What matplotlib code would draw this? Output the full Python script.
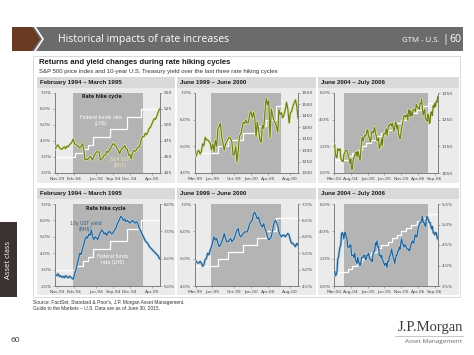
import matplotlib
matplotlib.use('Agg')
import matplotlib.pyplot as plt
import matplotlib.patheffects as pe
from matplotlib.patches import Rectangle, Polygon
from matplotlib.lines import Line2D
import pandas as pd

# ---------------- data ----------------
# cycle 1: Feb 1994 - Mar 1995, weekly from 1993-10-22
sp500_94 = [463, 467, 469, 465, 463, 462, 464, 466, 463, 467,
            466, 469, 471, 474, 478, 470, 470, 467, 467, 464,
            466, 471, 464, 445, 447, 446, 448, 451, 449, 445,
            452, 455, 458, 458, 458, 445, 447, 449, 453, 453,
            459, 457, 461, 463, 468, 471, 469, 468, 463, 461,
            455, 461, 464, 465, 468, 463, 462, 453, 454, 447,
            457, 460, 459, 461, 465, 465, 470, 479, 482, 482,
            487, 485, 489, 495, 496, 501, 506, 510, 509, 514,
            520, 525]
ust10_94 = [5.40, 5.38, 5.45, 5.35, 5.38, 5.32, 5.35, 5.30, 5.38, 5.33,
            5.30, 5.36, 5.32, 5.28, 5.25, 5.45, 5.60, 5.80, 6.00, 6.20,
            6.15, 6.35, 6.50, 6.70, 6.80, 6.75, 6.90, 6.85, 7.05, 6.80,
            6.70, 6.80, 6.75, 6.70, 6.85, 6.95, 7.05, 7.00, 6.90, 6.95,
            6.85, 6.95, 7.00, 6.95, 6.90, 6.95, 7.05, 7.10, 7.25, 7.35,
            7.45, 7.55, 7.50, 7.40, 7.45, 7.35, 7.40, 7.35, 7.30, 7.35,
            7.40, 7.35, 7.30, 7.35, 7.30, 7.15, 7.05, 6.95, 6.85, 6.75,
            6.65, 6.60, 6.55, 6.45, 6.40, 6.35, 6.30, 6.25, 6.20, 6.15,
            6.10, 6.00]
ff_dates_94 = ['1993-10-22', '1994-02-04', '1994-03-22', '1994-04-18', '1994-05-17',
               '1994-08-16', '1994-11-15', '1995-02-01', '1995-05-15']
ff_rate_94 = [3.0, 3.25, 3.5, 3.75, 4.25, 4.75, 5.5, 6.0, 6.0]
xticks_94 = ['1993-11-01', '1994-02-01', '1994-06-01', '1994-09-01', '1994-12-01', '1995-04-01']
xlabels_94 = ['Nov-93', 'Feb-94', 'Jun-94', 'Sep-94', 'Dec-94', 'Apr-95']

# cycle 2: Jun 1999 - Jun 2000, weekly from 1999-03-05
sp500_99 = [1275, 1294, 1299, 1283,
            1293, 1328, 1319, 1356, 1345,
            1345, 1338, 1330, 1302,
            1327, 1294, 1343, 1316,
            1391, 1404, 1418, 1357, 1329,
            1300, 1327, 1336, 1348,
            1357, 1351, 1336, 1277,
            1282, 1317, 1247, 1301, 1362,
            1370, 1396, 1422, 1416,
            1433, 1418, 1422, 1458, 1469,
            1441, 1465, 1441, 1360,
            1424, 1387, 1346, 1333,
            1409, 1395, 1464, 1527, 1499,
            1516, 1356, 1481, 1452,
            1432, 1420, 1406, 1378,
            1477, 1456, 1464, 1441, 1455,
            1478, 1509, 1480, 1419,
            1462, 1471, 1492, 1506,
            1520, 1495, 1440]
ust10_99 = [5.25, 5.20, 5.20, 5.25,
            5.20, 5.10, 5.15, 5.30, 5.35,
            5.50, 5.45, 5.60, 5.70,
            5.85, 6.00, 5.90, 5.95,
            5.80, 5.70, 5.75, 5.85, 5.95,
            6.10, 5.95, 5.85, 5.85,
            5.90, 5.95, 5.85, 5.90,
            5.95, 6.10, 6.20, 6.25, 6.05,
            6.00, 6.05, 6.10, 6.15,
            6.15, 6.15, 6.25, 6.40, 6.45,
            6.50, 6.70, 6.75, 6.65,
            6.55, 6.60, 6.45, 6.35,
            6.30, 6.40, 6.25, 6.15, 6.00,
            5.90, 5.95, 6.00, 6.20,
            6.40, 6.50, 6.45, 6.35,
            6.15, 6.05, 6.00, 6.05, 6.05,
            6.00, 6.05, 6.10, 6.05,
            5.90, 5.80, 5.80, 5.75,
            5.70, 5.80, 5.75]
ff_dates_99 = ['1999-03-05', '1999-06-30', '1999-08-24', '1999-11-16', '2000-02-02',
               '2000-03-21', '2000-05-16', '2000-09-15']
ff_rate_99 = [4.75, 5.0, 5.25, 5.5, 5.75, 6.0, 6.5, 6.5]
xticks_99 = ['1999-03-01', '1999-06-01', '1999-10-01', '2000-01-01', '2000-04-01', '2000-08-01']
xlabels_99 = ['Mar-99', 'Jun-99', 'Oct-99', 'Jan-00', 'Apr-00', 'Aug-00']

# cycle 3: Jun 2004 - Jul 2006, weekly from 2004-03-05
sp500_04 = [1156, 1120, 1110, 1108, 1141, 1139, 1134, 1140, 1107,
            1098, 1095, 1093, 1120, 1123, 1136, 1135, 1134,
            1125, 1112, 1101, 1086, 1102, 1064, 1065, 1099, 1107,
            1114, 1123, 1128, 1110, 1131, 1122, 1108, 1096, 1130,
            1166, 1184, 1170, 1182, 1191, 1189, 1194, 1210, 1212,
            1186, 1184, 1168, 1171, 1203, 1205, 1201, 1211,
            1222, 1200, 1190, 1172, 1173, 1182, 1142, 1152, 1156,
            1178, 1154, 1190, 1198, 1196, 1200, 1216, 1191,
            1211, 1228, 1227, 1234, 1234, 1226, 1237, 1220, 1205,
            1219, 1241, 1237, 1215, 1228, 1196, 1186, 1179, 1198,
            1220, 1234, 1248, 1265, 1265, 1260, 1267, 1268, 1248,
            1285, 1287, 1261, 1283, 1264, 1266, 1287, 1289,
            1287, 1281, 1307, 1302, 1295, 1295, 1289, 1311, 1310,
            1325, 1291, 1267, 1280, 1288, 1253, 1251, 1244, 1270,
            1265, 1236, 1240, 1278, 1279, 1266, 1302, 1295,
            1311, 1299, 1319, 1315, 1336]
ust10_04 = [3.85, 3.75, 3.78, 3.84, 4.15, 4.20, 4.35, 4.45, 4.50,
            4.78, 4.80, 4.75, 4.65, 4.80, 4.80, 4.70, 4.65,
            4.45, 4.45, 4.45, 4.50, 4.50, 4.25, 4.25, 4.25, 4.20,
            4.30, 4.15, 4.10, 4.05, 4.20, 4.10, 4.05, 4.00, 4.05,
            4.20, 4.20, 4.20, 4.25, 4.25, 4.15, 4.15, 4.25, 4.25,
            4.30, 4.20, 4.15, 4.15, 4.10, 4.10, 4.30, 4.35,
            4.35, 4.55, 4.50, 4.60, 4.45, 4.45, 4.25, 4.25, 4.20,
            4.25, 4.15, 4.10, 4.05, 4.00, 4.05, 4.05, 3.95,
            4.10, 4.10, 4.20, 4.25, 4.30, 4.40, 4.30, 4.20, 4.15,
            4.05, 4.15, 4.25, 4.25, 4.35, 4.35, 4.45, 4.40, 4.55,
            4.65, 4.55, 4.50, 4.45, 4.50, 4.50, 4.45, 4.40, 4.40,
            4.40, 4.35, 4.40, 4.50, 4.55, 4.60, 4.55, 4.55,
            4.70, 4.75, 4.70, 4.70, 4.85, 4.95, 5.00, 5.05, 5.05,
            5.10, 5.20, 5.05, 5.05, 5.00, 4.95, 5.10, 5.20, 5.15,
            5.10, 5.05, 5.05, 4.95, 4.90, 4.95, 4.80, 4.80,
            4.75, 4.80, 4.80, 4.70, 4.65]
ff_dates_04 = ['2004-03-05', '2004-06-30', '2004-08-10', '2004-09-21', '2004-11-10',
               '2004-12-14', '2005-02-02', '2005-03-22', '2005-05-03', '2005-06-30',
               '2005-08-09', '2005-09-20', '2005-11-01', '2005-12-13', '2006-01-31',
               '2006-03-28', '2006-05-10', '2006-06-29', '2006-09-29']
ff_rate_04 = [1.0, 1.25, 1.5, 1.75, 2.0, 2.25, 2.5, 2.75, 3.0, 3.25,
              3.5, 3.75, 4.0, 4.25, 4.5, 4.75, 5.0, 5.25, 5.25]
xticks_04 = ['2004-03-01', '2004-08-01', '2005-01-01', '2005-06-01', '2005-11-01',
             '2006-04-01', '2006-09-01']
xlabels_04 = ['Mar-04', 'Aug-04', 'Jan-05', 'Jun-05', 'Nov-05', 'Apr-06', 'Sep-06']

titles = ['February 1994 \u2013 March 1995', 'June 1999 \u2013 June 2000', 'June 2004 \u2013 July 2006']

# ---------------- layout helpers (pixel coords, y from top) ----------------
W, H = 474, 355
PANEL_BG = '#ebebeb'
HEAD_BG = '#dadada'
SHADE = '#b4b4b4'
GREEN, GREEN_HALO = '#6f7d22', '#dfe6a6'
BLUE, BLUE_HALO = '#2c5d88', '#a9cfe9'
TXT = '#4a4a4a'


def fx(x):
    return x / W


def fy(y):
    return 1 - y / H


def box(fig, x0, y0, x1, y1, **kw):
    # figure-level rectangle, kept behind the axes
    fig.patches.append(Rectangle((fx(x0), fy(y1)), (x1 - x0) / W, (y1 - y0) / H,
                                 transform=fig.transFigure, zorder=-10, **kw))


def pct(v):
    return f'{v:.1f}%'


def draw_panel(fig, rect, start, values, ff_dates, ff_rate, xlim, shade, xticks, xlabels,
               lhs, rhs, rhs_fmt, color, halo):
    x0, y0, x1, y1 = rect
    ax = fig.add_axes([fx(x0), fy(y1), (x1 - x0) / W, (y1 - y0) / H])
    ax.set_facecolor(PANEL_BG)
    ax.axvspan(pd.Timestamp(shade[0]), pd.Timestamp(shade[1]), color=SHADE, lw=0, zorder=0)
    ax.step(pd.to_datetime(ff_dates), ff_rate, where='post', color='white', lw=0.9, zorder=2)
    ax.set_ylim(lhs[0], lhs[-1])
    ax.set_yticks(lhs)
    ax.set_yticklabels([pct(v) for v in lhs])
    ax.set_xlim(pd.Timestamp(xlim[0]), pd.Timestamp(xlim[1]))
    ax.set_xticks(pd.to_datetime(xticks))
    ax.set_xticklabels(xlabels)

    ax2 = ax.twinx()
    dates = pd.date_range(start, periods=len(values), freq='W-FRI')
    ax2.plot(dates, values, color=color, lw=0.85, zorder=3,
             path_effects=[pe.Stroke(linewidth=1.9, foreground=halo), pe.Normal()])
    ax2.set_ylim(rhs[0], rhs[-1])
    ax2.set_yticks(rhs)
    ax2.set_yticklabels([rhs_fmt(v) for v in rhs])
    ax2.set_xlim(pd.Timestamp(xlim[0]), pd.Timestamp(xlim[1]))

    for a in (ax, ax2):
        for s in a.spines.values():
            s.set_color('#777777')
            s.set_linewidth(0.5)
        a.spines['top'].set_visible(False)
        a.tick_params(labelsize=3.2, colors='#777777', labelcolor=TXT,
                      length=1.5, width=0.4, pad=1.2)
    return ax


fig = plt.figure(figsize=(4.74, 3.55), dpi=100)
fig.patch.set_facecolor('white')

# header bar
box(fig, 12, 27, 463, 51, color='#6b6b6b', lw=0)
fig.patches.append(Polygon([(fx(12), fy(27)), (fx(32), fy(27)), (fx(40), fy(39)),
                            (fx(32), fy(51)), (fx(12), fy(51))],
                           closed=True, transform=fig.transFigure, color='#6b3a24', lw=0,
                           zorder=-9))
fig.lines.append(Line2D([fx(35), fx(43), fx(35)], [fy(27), fy(39), fy(51)],
                        transform=fig.transFigure, color='white', lw=1.2, zorder=-8))
fig.text(fx(58), fy(39.5), 'Historical impacts of rate increases', color='white',
         fontsize=7.6, va='center', family='Open Sans')
fig.text(fx(439), fy(40), 'GTM - U.S.', color='white', fontsize=5.6, va='center',
         ha='right', family='Open Sans')
fig.text(fx(445), fy(39.5), '|', color='white', fontsize=8, va='center', ha='center',
         family='Open Sans')
fig.text(fx(461), fy(39.5), '60', color='white', fontsize=7.6, va='center', ha='right',
         family='Open Sans')

# content box
box(fig, 33, 56, 460, 297, facecolor='white', edgecolor='#d4d4d4', lw=0.6)
fig.text(fx(39), fy(63), 'Returns and yield changes during rate hiking cycles',
         fontsize=5.6, fontweight='bold', va='center', color='#1a1a1a', family='Liberation Sans')
fig.text(fx(39), fy(71.5),
         'S&P 500 price index and 10-year U.S. Treasury yield over the last three rate hiking cycles',
         fontsize=4.3, va='center', color='#333333', family='Liberation Sans')

cols = [(37, 175), (177, 316), (318, 459)]
for (cx0, cx1), title in zip(cols, titles):
    for hy0, hy1, by1 in [(77, 88, 183), (188, 199, 295)]:
        box(fig, cx0, hy1, cx1, by1, color=PANEL_BG, lw=0)
        box(fig, cx0, hy0, cx1, hy1, color=HEAD_BG, lw=0)
        fig.text(fx(cx0 + 3), fy((hy0 + hy1) / 2), title, fontsize=4.4, fontweight='bold',
                 va='center', color='#1a1a1a', family='Liberation Sans')

top_y, bot_y = (93, 173), (204, 286)
axes_x = [(55, 160), (195, 298), (334, 438)]
rhs_int = lambda v: f'{v:.0f}'

cycles = [
    ('1993-10-22', sp500_94, ust10_94, ff_dates_94, ff_rate_94, ('1993-10-20', '1995-05-15'),
     ('1994-01-26', '1995-02-10'), xticks_94, xlabels_94, [2, 3, 4, 5, 6, 7],
     [425, 450, 475, 500, 525, 550], [2, 3, 4, 5, 6, 7], [5, 6, 7, 8]),
    ('1999-03-05', sp500_99, ust10_99, ff_dates_99, ff_rate_99, ('1999-02-26', '2000-09-15'),
     ('1999-05-25', '2000-06-16'), xticks_99, xlabels_99, [4, 5, 6, 7],
     [1200, 1250, 1300, 1350, 1400, 1450, 1500, 1550], [4, 5, 6, 7],
     [4.5, 5.0, 5.5, 6.0, 6.5, 7.0]),
    ('2004-03-05', sp500_04, ust10_04, ff_dates_04, ff_rate_04, ('2004-02-28', '2006-10-01'),
     ('2004-05-29', '2006-07-05'), xticks_04, xlabels_04, [0, 2, 4, 6],
     [1050, 1150, 1250, 1350], [0, 2, 4, 6], [3.5, 4.0, 4.5, 5.0, 5.5]),
]

top_axes, bot_axes = [], []
for (ax0, ax1), c in zip(axes_x, cycles):
    start, sp, ust, ffd, ffr, xlim, shade, xt, xl, lhs_t, rhs_t, lhs_b, rhs_b = c
    top_axes.append(draw_panel(fig, (ax0, top_y[0], ax1, top_y[1]), start, sp, ffd, ffr, xlim,
                               shade, xt, xl, lhs_t, rhs_t, rhs_int, GREEN, GREEN_HALO))
    bot_axes.append(draw_panel(fig, (ax0, bot_y[0], ax1, bot_y[1]), start, ust, ffd, ffr, xlim,
                               shade, xt, xl, lhs_b, rhs_b, pct, BLUE, BLUE_HALO))

# annotations on the first cycle
a = top_axes[0]
a.text(0.45, 0.955, 'Rate hike cycle', transform=a.transAxes, fontsize=3.3, fontweight='bold',
       ha='center', va='center', color='#222222', zorder=5)
a.text(0.44, 0.66, 'Federal funds rate\n(LHS)', transform=a.transAxes, fontsize=3.3,
       ha='center', va='center', color='white', linespacing=1.3, zorder=5)
a.text(0.62, 0.13, 'S&P 500\n(RHS)', transform=a.transAxes, fontsize=3.3,
       ha='center', va='center', color='#e9e4b2', linespacing=1.3, zorder=5)
a = bot_axes[0]
a.text(0.48, 0.95, 'Rate hike cycle', transform=a.transAxes, fontsize=3.3, fontweight='bold',
       ha='center', va='center', color='#222222', zorder=5)
a.text(0.29, 0.73, '10y UST yield\n(RHS)', transform=a.transAxes, fontsize=3.3,
       ha='center', va='center', color=BLUE, linespacing=1.3, zorder=5)
a.text(0.55, 0.32, 'Federal funds\nrate (LHS)', transform=a.transAxes, fontsize=3.3,
       ha='center', va='center', color='white', linespacing=1.3, zorder=5)

# source
fig.text(fx(33), fy(302.5), "Source: FactSet, Standard & Poor's, J.P. Morgan Asset Management.",
         fontsize=3.5, va='center', color='#333333', family='Liberation Sans')
fig.text(fx(33), fy(307.5), 'Guide to the Markets \u2013 U.S. Data are as of June 30, 2015.',
         fontsize=3.5, va='center', color='#333333', family='Liberation Sans')

# side tab and page number
box(fig, 0, 222, 17, 297, color='#3b3331', lw=0)
fig.text(fx(8.5), fy(259.5), 'Asset class', rotation=90, color='white', fontsize=5.5,
         ha='center', va='center', family='Open Sans')
fig.text(fx(15), fy(341), '60', fontsize=6, ha='center', va='center', color='#333333',
         family='Open Sans')

# logo
fig.text(fx(463), fy(328), 'J.P.Morgan', fontsize=10.5, ha='right', va='center',
         color='#3a3a3a', family='Liberation Serif')
fig.lines.append(Line2D([fx(395), fx(463)], [fy(336), fy(336)], transform=fig.transFigure,
                        color='#9a9a9a', lw=0.4))
fig.text(fx(462), fy(341.5), 'Asset Management', fontsize=4.6, ha='right', va='center',
         color='#666666', family='Open Sans')

fig.savefig('out.png', dpi=100, facecolor='white')
